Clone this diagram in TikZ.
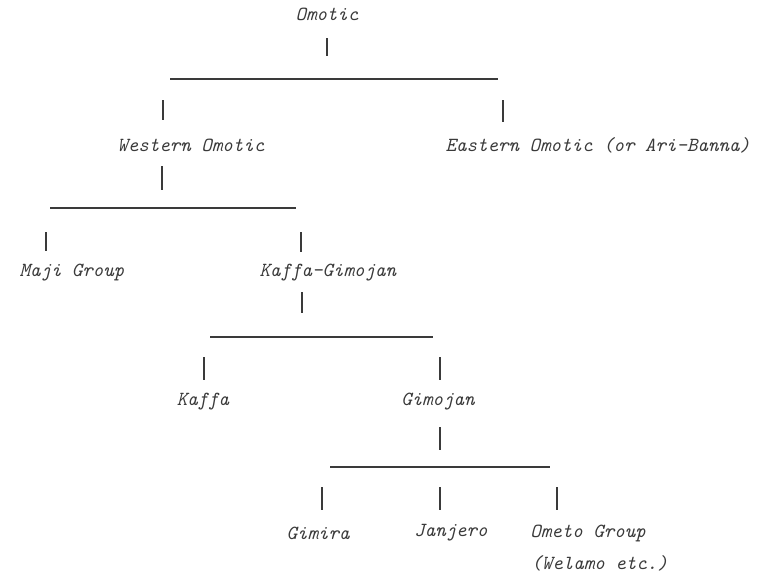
\documentclass[tikz,border=0pt]{standalone}
\definecolor{ink}{HTML}{3A3A3A}
\tikzset{
  lbl/.style={inner sep=0pt, text=ink, font=\ttfamily\itshape\fontsize{10}{12}\selectfont},
  bar/.style={draw=ink, line width=0.6pt},
  hbar/.style={draw=ink, line width=0.6pt}
}
\begin{document}
\begin{tikzpicture}[x=0.5pt, y=-0.5pt]
\useasboundingbox (0,0) rectangle (768,574);
% labels
\node[lbl] (omotic) at (327,14) {Omotic};
\node[lbl] (west) at (191,145) {Western Omotic};
\node[lbl] (east) at (598,145) {Eastern Omotic (or Ari-Banna)};
\node[lbl] (maji) at (72,273) {Maji Group};
\node[lbl] (kg) at (328,273) {Kaffa-Gimojan};
\node[lbl] (kaffa) at (203,402) {Kaffa};
\node[lbl] (gimojan) at (438,402) {Gimojan};
\node[lbl] (gimira) at (318,533) {Gimira};
\node[lbl] (janjero) at (451,533) {Janjero};
\node[lbl, anchor=west] (ometo) at (530,533) {Ometo Group};
\node[lbl, anchor=west] (welamo) at (531,563) {(Welamo etc.)};
% level 1
\coordinate (a1) at (327,38); \coordinate (a2) at (327,56);
\coordinate (h1l) at (170,79); \coordinate (h1r) at (498,79);
\coordinate (a3) at (163,100); \coordinate (a4) at (163,120);
\coordinate (a5) at (503,100); \coordinate (a6) at (503,122);
\draw[bar] (a1) -- (a2);
\draw[hbar] (h1l) -- (h1r);
\draw[bar] (a3) -- (a4);
\draw[bar] (a5) -- (a6);
% level 2
\coordinate (b1) at (162,166); \coordinate (b2) at (162,190);
\coordinate (h2l) at (50,208); \coordinate (h2r) at (296,208);
\coordinate (b3) at (46,232); \coordinate (b4) at (46,251);
\coordinate (b5) at (301,232); \coordinate (b6) at (301,252);
\draw[bar] (b1) -- (b2);
\draw[hbar] (h2l) -- (h2r);
\draw[bar] (b3) -- (b4);
\draw[bar] (b5) -- (b6);
% level 3
\coordinate (c1) at (302,292); \coordinate (c2) at (302,313);
\coordinate (h3l) at (210,337); \coordinate (h3r) at (433,337);
\coordinate (c3) at (204,357); \coordinate (c4) at (204,380);
\coordinate (c5) at (440,357); \coordinate (c6) at (440,380);
\draw[bar] (c1) -- (c2);
\draw[hbar] (h3l) -- (h3r);
\draw[bar] (c3) -- (c4);
\draw[bar] (c5) -- (c6);
% level 4
\coordinate (d1) at (440,427); \coordinate (d2) at (440,450);
\coordinate (h4l) at (330,467); \coordinate (h4r) at (550,467);
\coordinate (d3) at (322,487); \coordinate (d4) at (322,510);
\coordinate (d5) at (440,487); \coordinate (d6) at (440,510);
\coordinate (d7) at (557,487); \coordinate (d8) at (557,510);
\draw[bar] (d1) -- (d2);
\draw[hbar] (h4l) -- (h4r);
\draw[bar] (d3) -- (d4);
\draw[bar] (d5) -- (d6);
\draw[bar] (d7) -- (d8);
\end{tikzpicture}
\end{document}
